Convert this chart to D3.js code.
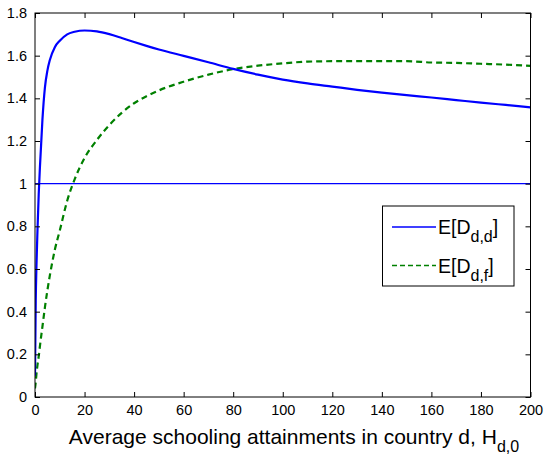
<!DOCTYPE html>
<html><head><meta charset="utf-8">
<script src="https://cdn.jsdelivr.net/npm/d3@7"></script>
<style>
body{margin:0;background:#fff;}
svg text{font-family:"Liberation Sans",Arial,sans-serif;fill:#000;}
</style></head>
<body><svg id="c" width="544" height="457"></svg>
<script>
const xs = [0,0.3,0.6,1,1.5,2,3,4,5,6,8,10,13,16,20,25,30,35,40,45,50,60,70,80,90,100,110,120,130,140,150,160,170,180,190,200];
const eDdd = [0.1,0.45,0.62,0.78,0.95,1.08,1.3,1.45,1.53,1.58,1.64,1.67,1.70,1.712,1.718,1.714,1.701,1.683,1.664,1.646,1.629,1.599,1.569,1.538,1.511,1.488,1.47,1.455,1.44,1.427,1.415,1.404,1.392,1.38,1.369,1.358];
const eDdf = [0.04,0.07,0.11,0.15,0.19,0.24,0.33,0.42,0.5,0.57,0.69,0.78,0.92,1.02,1.12,1.205,1.275,1.332,1.377,1.41,1.437,1.478,1.511,1.537,1.553,1.564,1.572,1.574,1.574,1.574,1.574,1.568,1.566,1.562,1.558,1.552];
const xTicks = [0,20,40,60,80,100,120,140,160,180,200];
const yTicks = [0,0.2,0.4,0.6,0.8,1,1.2,1.4,1.6,1.8];
const refLevel = [1];
const legendLabels = [["E[D","d,d","]"],["E[D","d,f","]"]];

const L=35,R=530.5,T=13,B=397;
const svg=d3.select("#c");
const x=d3.scaleLinear().domain([0,200]).range([L,R]);
const y=d3.scaleLinear().domain([0,1.8]).range([B,T]);

svg.append("clipPath").attr("id","cp").append("rect").attr("x",L).attr("y",T).attr("width",R-L).attr("height",B-T);
const g=svg.append("g").attr("clip-path","url(#cp)");

g.selectAll("line.ref").data(refLevel).join("line").attr("class","ref")
 .attr("x1",L).attr("x2",R).attr("y1",d=>y(d)).attr("y2",d=>y(d))
 .attr("stroke","#0000ff").attr("stroke-width",1.2);

const line=d3.line().x(d=>x(d[0])).y(d=>y(d[1])).curve(d3.curveMonotoneX);
g.append("path").datum(xs.map((v,i)=>[v,eDdf[i]])).attr("d",line)
 .attr("fill","none").attr("stroke","#008000").attr("stroke-width",2.2).attr("stroke-dasharray","6,4");
g.append("path").datum(xs.map((v,i)=>[v,eDdd[i]])).attr("d",line)
 .attr("fill","none").attr("stroke","#0000ff").attr("stroke-width",2.2);

const fmt=d=>String(+d.toFixed(1));
const xa=svg.append("g").attr("transform",`translate(0,${B})`).call(d3.axisBottom(x).tickValues(xTicks).tickSize(-5).tickPadding(8).tickFormat(d=>d));
const xt=svg.append("g").attr("transform",`translate(0,${T})`).call(d3.axisTop(x).tickValues(xTicks).tickSize(-5).tickFormat(""));
const ya=svg.append("g").attr("transform",`translate(${L},0)`).call(d3.axisLeft(y).tickValues(yTicks).tickSize(-5).tickPadding(8).tickFormat(fmt));
const yr=svg.append("g").attr("transform",`translate(${R},0)`).call(d3.axisRight(y).tickValues(yTicks).tickSize(-5).tickFormat(""));
[xa,xt,ya,yr].forEach(a=>{a.select(".domain").remove();a.selectAll("line").attr("stroke","#000");a.selectAll("text").attr("font-size",14.5).attr("font-family","Liberation Sans, Arial, sans-serif").attr("fill","#000");});
svg.append("rect").attr("x",L).attr("y",T).attr("width",R-L).attr("height",B-T).attr("fill","none").attr("stroke","#000").attr("stroke-width",1);

const tt=svg.append("text").attr("x",294).attr("y",444).attr("text-anchor","middle").attr("font-size",21);
tt.append("tspan").text("Average schooling attainments in country d, H");
tt.append("tspan").attr("dy",8).attr("font-size",16).text("d,0");

const lg=svg.append("g");
lg.append("rect").attr("x",382.5).attr("y",206).attr("width",131.5).attr("height",80).attr("fill","#fff").attr("stroke","#000").attr("stroke-width",1);
const cols=["#0000ff","#008000"],dash=[null,"5,3"];
legendLabels.forEach((lab,i)=>{
  const yy=227+i*38.5;
  lg.append("line").attr("x1",392).attr("x2",436).attr("y1",yy).attr("y2",yy).attr("stroke",cols[i]).attr("stroke-width",1.5).attr("stroke-dasharray",dash[i]);
  const t=lg.append("text").attr("x",438).attr("y",yy+7).attr("font-size",19.5);
  t.append("tspan").text(lab[0]);
  t.append("tspan").attr("dy",8).attr("font-size",16).text(lab[1]);
  t.append("tspan").attr("dy",-8).text(lab[2]);
});
</script></body></html>
